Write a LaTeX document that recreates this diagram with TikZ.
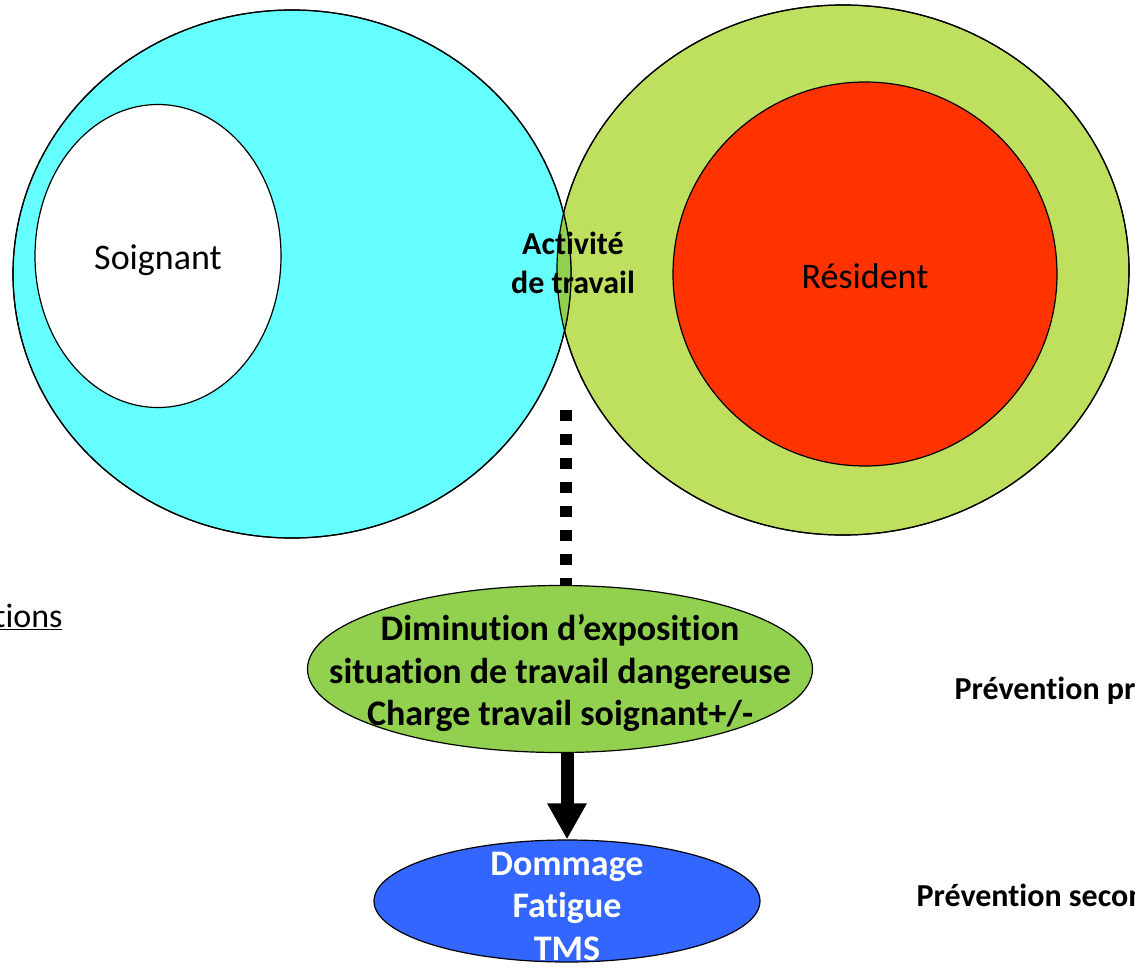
\documentclass[tikz,border=0pt]{standalone}
\usepackage{fontspec}
\setmainfont{Carlito}[Ligatures=NoCommon]
\usetikzlibrary{positioning, shapes.geometric, arrows.meta}

\definecolor{soignantcyan}{HTML}{66FFFF}
\definecolor{residentgreen}{HTML}{BFDF5F}
\definecolor{residentred}{HTML}{FF3300}
\definecolor{lensgreen}{HTML}{92D050}
\definecolor{dommageblue}{HTML}{3366FF}

\begin{document}
\begin{tikzpicture}[
x=1pt, y=-1pt,
zone/.style={ellipse, draw, line width=1.2pt, inner sep=0pt},
bigtext/.style={font=\fontsize{36}{42}\selectfont, align=center},
boldtext/.style={font=\bfseries\fontsize{36}{42.5}\selectfont, align=center},
sidetext/.style={font=\bfseries\fontsize{32}{36}\selectfont, anchor=west},
dotline/.style={line width=12pt, dash pattern=on 11pt off 13pt},
bigarrow/.style={line width=13pt, -{Triangle[width=37pt, length=36pt]}}
]
\useasboundingbox (0,0) rectangle (1135,970);
\clip (0,0) rectangle (1135,970);

% --- Deux grands cercles : soignant et résident ---
\node[zone, fill=residentgreen, minimum width=572pt, minimum height=530pt] (milieu) at (843,270) {};
\node[zone, fill=soignantcyan, minimum width=558pt, minimum height=528pt] (travailleur) at (292,274) {};

% --- Zone commune ---
\begin{scope}
\clip (292,274) ellipse [x radius=279pt, y radius=264pt];
\fill[lensgreen] (843,270) ellipse [x radius=286pt, y radius=265pt];
\end{scope}
\draw[line width=1.2pt] (292,274) ellipse [x radius=279pt, y radius=264pt];
\draw[line width=1.2pt] (843,270) ellipse [x radius=286pt, y radius=265pt];

\node[zone, fill=white, minimum width=246pt, minimum height=303pt] (soignant) at (158,256) {};
\node[bigtext] at (158,260) {Soignant};
\node[zone, fill=residentred, minimum width=384pt, minimum height=384pt] (resident) at (865,274) {};
\node[bigtext] at (865,276) {Résident};
\node[font=\bfseries\fontsize{32}{39}\selectfont, align=center] (activite) at (573,263) {Activité\\de travail};

% --- Conséquences ---
\node[zone, fill=lensgreen, minimum width=505pt, minimum height=167pt] (exposition) at (560,669) {};
\node[boldtext] (expotexte) at (560,673)
  {Diminution d’exposition\\situation de travail dangereuse\\Charge travail soignant+/-};
\node[zone, fill=dommageblue, minimum width=386pt, minimum height=122pt] (dommage) at (567,901) {};
\node[boldtext, text=white] (dommagetexte) at (567,906) {Dommage\\Fatigue\\TMS};

% --- Liaisons ---
\coordinate (depart) at (566,410);
\draw[dotline] (depart) -- (depart |- exposition.north);
\draw[bigarrow] (exposition.south -| dommage.north) -- (dommage.north);

% --- Textes en marge ---
\node[font=\fontsize{34}{40}\selectfont, anchor=east] (actions) at (66,617) {\underline{tions}};
\node[sidetext] (primaire) at (951,691) {Prévention primaire};
\node[sidetext] (secondaire) at (913,895) {Prévention secondaire};

\end{tikzpicture}
\end{document}
